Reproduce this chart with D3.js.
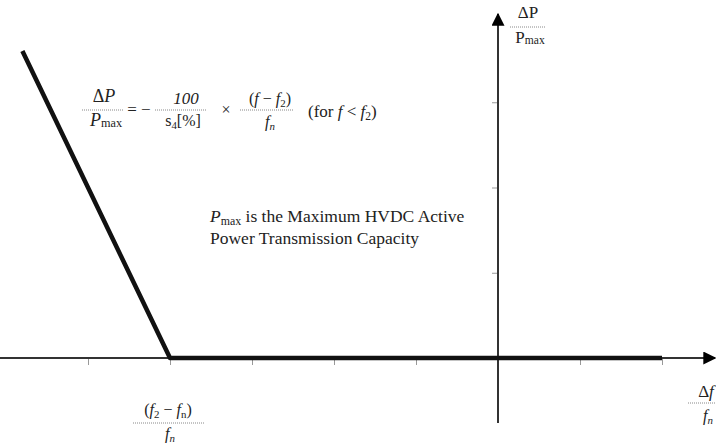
<!DOCTYPE html>
<html>
<head>
<meta charset="utf-8">
<script src="https://cdn.jsdelivr.net/npm/d3@7"></script>
<style>
  html, body { margin: 0; padding: 0; background: #fff; }
  text { font-family: "Liberation Serif", "DejaVu Serif", serif; fill: #222; }
</style>
</head>
<body>
<div id="chart"></div>
<script>
const width = 716;
const height = 444;

// normalised frequency deviation (x) and power change (y)
const xTicks = [-5, -4, -3, -2, -1, 1, 2];
const yTicks = [1, 2, 3];
const droopX = [-5.8, -4, 2];
const droopY = [3.6, 0, 0];

const COLORS = {
  AXIS: '#333',
  LINE: '#111',
  TICK: '#999',
  FRAC: '#888'
};

const x = d3.scaleLinear().domain([-4, 0]).range([170, 498]);
const y = d3.scaleLinear().domain([0, 4]).range([358, 17]);

const svg = d3.create("svg")
  .attr("width", width)
  .attr("height", height)
  .attr("viewBox", [0, 0, width, height]);

svg.append('defs')
  .append('marker')
    .attr('id', 'arrow')
    .attr('viewBox', [0, 0, 10, 10])
    .attr('refX', 9)
    .attr('refY', 5)
    .attr('markerWidth', 6.5)
    .attr('markerHeight', 6.5)
    .attr('markerUnits', 'strokeWidth')
    .attr('orient', 'auto')
  .append('path')
    .attr('d', 'M0,0 L10,5 L0,10 Z')
    .attr('fill', '#000');

// axes
svg.append("line")
  .attr("x1", 0).attr("x2", width - 1)
  .attr("y1", y(0)).attr("y2", y(0))
  .attr("stroke", COLORS.AXIS)
  .attr("stroke-width", 2)
  .attr("marker-end", "url(#arrow)");

svg.append("line")
  .attr("x1", x(0)).attr("x2", x(0))
  .attr("y1", 423).attr("y2", y(4) - 3)
  .attr("stroke", COLORS.AXIS)
  .attr("stroke-width", 2)
  .attr("marker-end", "url(#arrow)");

// tiny tick marks
svg.append("g")
  .attr("transform", `translate(0,${y(0) + 1})`)
  .call(d3.axisBottom(x).tickValues(xTicks).tickSize(6).tickFormat(""))
  .call(g => g.select(".domain").remove())
  .call(g => g.selectAll("line").attr("stroke", COLORS.TICK));

svg.append("g")
  .attr("transform", `translate(${x(0) - 1},0)`)
  .call(d3.axisLeft(y).tickValues(yTicks).tickSize(5).tickFormat(""))
  .call(g => g.select(".domain").remove())
  .call(g => g.selectAll("line").attr("stroke", COLORS.TICK));

// droop characteristic
const pts = droopX.map((d, i) => [d, droopY[i]]);
svg.append("path")
  .attr("d", d3.line().x(d => x(d[0])).y(d => y(d[1]))(pts))
  .attr("fill", "none")
  .attr("stroke", COLORS.LINE)
  .attr("stroke-width", 4.5)
  .attr("stroke-linejoin", "round");

// helpers for the maths text
const fracLine = (x1, x2, yy) => svg.append("line")
  .attr("x1", x1).attr("x2", x2).attr("y1", yy).attr("y2", yy)
  .attr("stroke", COLORS.FRAC).attr("stroke-width", 1)
  .attr("stroke-dasharray", "1,1");

const txt = (cx, cy, size, anchor, parts) => {
  const t = svg.append("text")
    .attr("x", cx).attr("y", cy)
    .attr("font-size", size)
    .attr("text-anchor", anchor);
  parts.forEach(p => {
    const s = t.append("tspan").text(p.t);
    if (p.i) s.attr("font-style", "italic");
    if (p.sub) s.attr("font-size", size * 0.68).attr("baseline-shift", "-25%");
    if (p.up) s.attr("font-size", size * 0.68).attr("baseline-shift", "-10%");
  });
  return t;
};

// formula
txt(104, 102, 18, "middle", [{t: "Δ"}, {t: "P", i: true}]);
fracLine(82, 123, 110);
txt(106, 126, 18, "middle", [{t: "P", i: true}, {t: "max", up: true}]);
txt(139, 115, 17, "middle", [{t: "= −"}]);
txt(186, 104, 17, "middle", [{t: "100", i: true}]);
fracLine(155, 207, 110);
txt(183, 126, 16, "middle", [{t: "s"}, {t: "4", sub: true}, {t: "[%]"}]);
txt(226, 115, 16, "middle", [{t: "×"}]);
txt(270, 104, 16, "middle", [{t: "("}, {t: "f", i: true}, {t: " − "}, {t: "f", i: true}, {t: "2", sub: true}, {t: ")"}]);
fracLine(240, 294, 110);
txt(270, 127, 16, "middle", [{t: "f", i: true}, {t: "n", i: true, sub: true}]);
txt(308, 117, 17, "start", [{t: "(for "}, {t: "f", i: true}, {t: " < "}, {t: "f", i: true}, {t: "2", sub: true}, {t: ")"}]);

// annotation
txt(210, 222, 17.5, "start", [{t: "P", i: true}, {t: "max", sub: true}, {t: " is the Maximum HVDC Active"}]);
txt(210, 244, 17.5, "start", [{t: "Power Transmission Capacity"}]);

// y label
txt(528, 18, 17, "middle", [{t: "ΔP"}]);
fracLine(510, 546, 27);
txt(530, 43, 17, "middle", [{t: "P"}, {t: "max", up: true}]);

// x label (cut at right edge)
txt(706, 397, 17, "middle", [{t: "Δ"}, {t: "f", i: true}]);
fracLine(688, 716, 403);
txt(708, 421, 16, "middle", [{t: "f", i: true}, {t: "n", i: true, sub: true}]);

// f2 label
txt(168, 415, 16, "middle", [{t: "("}, {t: "f", i: true}, {t: "2", sub: true}, {t: " − "}, {t: "f", i: true}, {t: "n", sub: true}, {t: ")"}]);
fracLine(133, 205, 423);
txt(170, 439, 16, "middle", [{t: "f", i: true}, {t: "n", i: true, sub: true}]);

document.getElementById("chart").append(svg.node());
</script>
</body>
</html>
